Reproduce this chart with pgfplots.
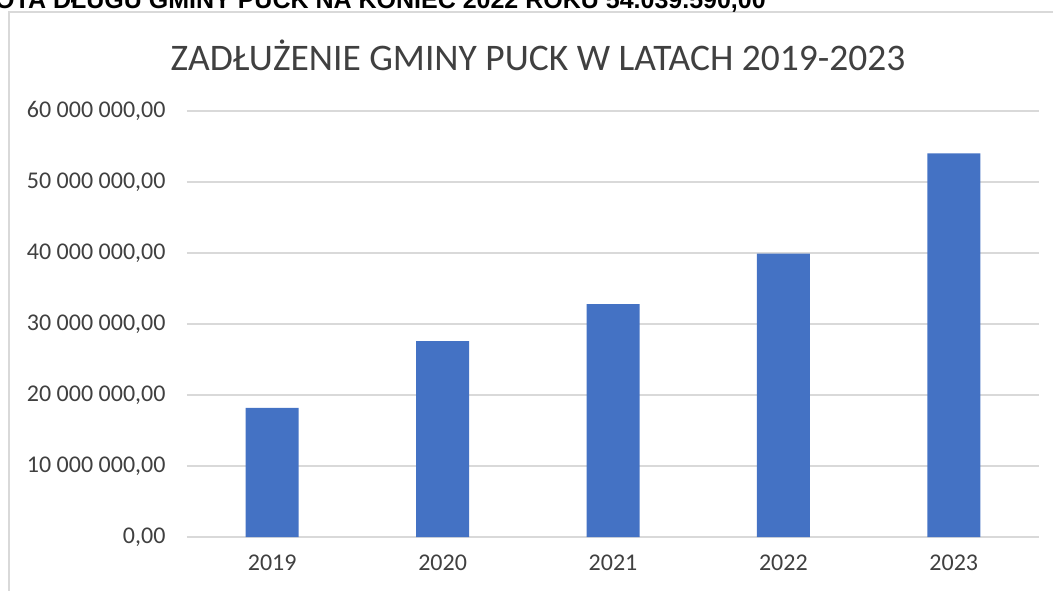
\documentclass[border=0pt]{standalone}
\usepackage{fontspec}
\setmainfont{Carlito}
\newfontfamily\arialfont{Liberation Sans}
\usepackage{pgfplots}
\pgfplotsset{compat=1.18}
\definecolor{barblue}{HTML}{4472C4}
\definecolor{gridgray}{HTML}{D9D9D9}
\definecolor{txt}{HTML}{404040}
\begin{document}
\begin{tikzpicture}
\useasboundingbox (0pt,0pt) rectangle (1053pt,590pt);
\draw[gridgray, line width=1.3pt] (9pt,-20pt) -- (9pt,578pt) -- (1070pt,578pt);
\node[anchor=base east, inner sep=0pt, font=\arialfont\bfseries\fontsize{25}{29}\selectfont] at (766pt,581pt) {KWOTA DŁUGU GMINY PUCK NA KONIEC 2022 ROKU 54.039.590,00};
\node[anchor=center, inner sep=0pt, text=txt, font=\fontsize{37.5}{42}\selectfont] at (538pt,535pt) {ZADŁUŻENIE GMINY PUCK W LATACH 2019-2023};
\begin{axis}[
  at={(187pt,53pt)}, anchor=south west,
  scale only axis, width=852pt, height=426pt,
  xmin=-0.5, xmax=4.5, ymin=0, ymax=60000000,
  ybar, bar width=53pt,
  axis line style={draw=none},
  major tick length=0pt,
  ymajorgrids, grid style={gridgray, line width=1.3pt},
  ytick={0,10000000,20000000,30000000,40000000,50000000,60000000},
  yticklabels={{0,00},{10 000 000,00},{20 000 000,00},{30 000 000,00},{40 000 000,00},{50 000 000,00},{60 000 000,00}},
  scaled y ticks=false,
  xtick={0,1,2,3,4},
  xticklabels={2019,2020,2021,2022,2023},
  ticklabel style={text=txt, font=\fontsize{24}{28}\selectfont},
  yticklabel style={anchor=east, xshift=-18pt},
  xticklabel style={anchor=center, yshift=-26pt},
]
\addplot[fill=barblue, draw=none] coordinates {(0,18200000) (1,27600000) (2,32800000) (3,39900000) (4,54039590)};
\end{axis}
\end{tikzpicture}
\end{document}
